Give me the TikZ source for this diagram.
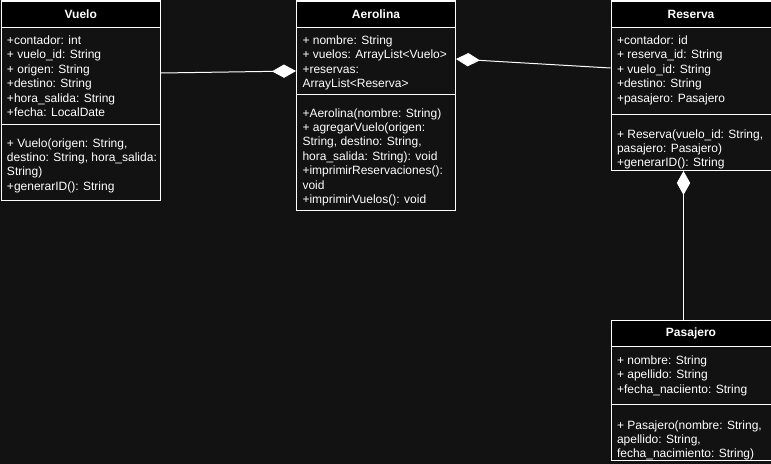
\documentclass[tikz,border=0pt]{standalone}
\usepackage{fontspec}
\setmainfont{Liberation Sans}
\usetikzlibrary{arrows.meta}

\definecolor{canvas}{HTML}{121212}

\tikzset{
    classbox/.style={draw=white, fill=canvas, anchor=north west, inner sep=0},
    classhead/.style={draw=white, fill=black, text=white, anchor=north,
    inner sep=0, minimum height=19.5pt, font=\bfseries\fontsize{9}{10.8}\selectfont},
    members/.style={text=white, anchor=north west, inner sep=0, align=left,
    font=\fontsize{9}{10.8}\selectfont},
    owns/.style={draw=white, {Diamond[length=18pt, width=10pt, fill=white]}-}
}

\begin{document}
\begin{tikzpicture}[x=0.75pt, y=-0.75pt, line width=0.75pt]

    % Canvas
    \fill[canvas] (0,0) rectangle (771,464);
    \useasboundingbox (0,0) rectangle (771,464);

    % Vuelo
    \node[classbox, minimum width=119.625pt, minimum height=149.625pt] (vuelo) at (0.5,0.5) {};
    \node[classhead, minimum width=119.625pt] (vuelo-head) at (vuelo.north) {Vuelo};
    \draw[white] (vuelo.west |- 0,124) -- (vuelo.east |- 0,124);
    \node[members] (vuelo-attr) at (6.5,34) {\strut+contador: int\\+ vuelo\_id: String\\+ origen: String\\
    +destino: String\\+hora\_salida: String\\+fecha: LocalDate};
    \node[members] (vuelo-meth) at (6.5,136.5) {\strut+ Vuelo(origen: String,\\destino: String, hora\_salida:\\
    String)\\+generarID(): String};

    % Aerolina
    \node[classbox, minimum width=119.25pt, minimum height=157.125pt] (aerolina) at (296,0.5) {};
    \node[classhead, minimum width=119.25pt] (aerolina-head) at (aerolina.north) {Aerolina};
    \draw[white] (aerolina.west |- 0,94) -- (aerolina.east |- 0,94);
    \node[members] (aerolina-attr) at (302,34) {\strut+ nombre: String\\+ vuelos: ArrayList<Vuelo>\\
    +reservas:\\ArrayList<Reserva>};
    \node[members] (aerolina-meth) at (302,106.5) {\strut+Aerolina(nombre: String)\\+ agregarVuelo(origen:\\
    String, destino: String,\\hora\_salida: String): void\\+imprimirReservaciones():\\void\\
    +imprimirVuelos(): void};

    % Reserva
    \node[classbox, minimum width=120pt, minimum height=127.125pt] (reserva) at (610.5,0.5) {};
    \node[classhead, minimum width=120pt] (reserva-head) at (reserva.north) {Reserva};
    \draw[white] (reserva.west |- 0,114) -- (reserva.east |- 0,114);
    \node[members] (reserva-attr) at (616.5,34) {\strut+contador: id\\+ reserva\_id: String\\
    + vuelo\_id: String\\+destino: String\\+pasajero: Pasajero};
    \node[members] (reserva-meth) at (616.5,127.5) {\strut+ Reserva(vuelo\_id: String,\\
    pasajero: Pasajero)\\+generarID(): String};

    % Pasajero
    \node[classbox, minimum width=120pt, minimum height=105pt] (pasajero) at (610.5,320) {};
    \node[classhead, minimum width=120pt] (pasajero-head) at (pasajero.north) {Pasajero};
    \draw[white] (pasajero.west |- 0,404) -- (pasajero.east |- 0,404);
    \node[members] (pasajero-attr) at (616.5,354) {\strut+ nombre: String\\+ apellido: String\\
    +fecha\_naciiento: String};
    \node[members] (pasajero-meth) at (616.5,418.5) {\strut+ Pasajero(nombre: String,\\
    apellido: String,\\fecha\_nacimiento: String)};

    % Compositions
    \draw[owns] (aerolina.west |- 0,71) -- (vuelo.east |- 0,73);
    \draw[owns] (aerolina.east |- 0,59) -- (reserva.west |- 0,68);
    \draw[owns] (reserva.south -| 683.5,0) -- (pasajero.north -| 683.5,0);

\end{tikzpicture}
\end{document}
